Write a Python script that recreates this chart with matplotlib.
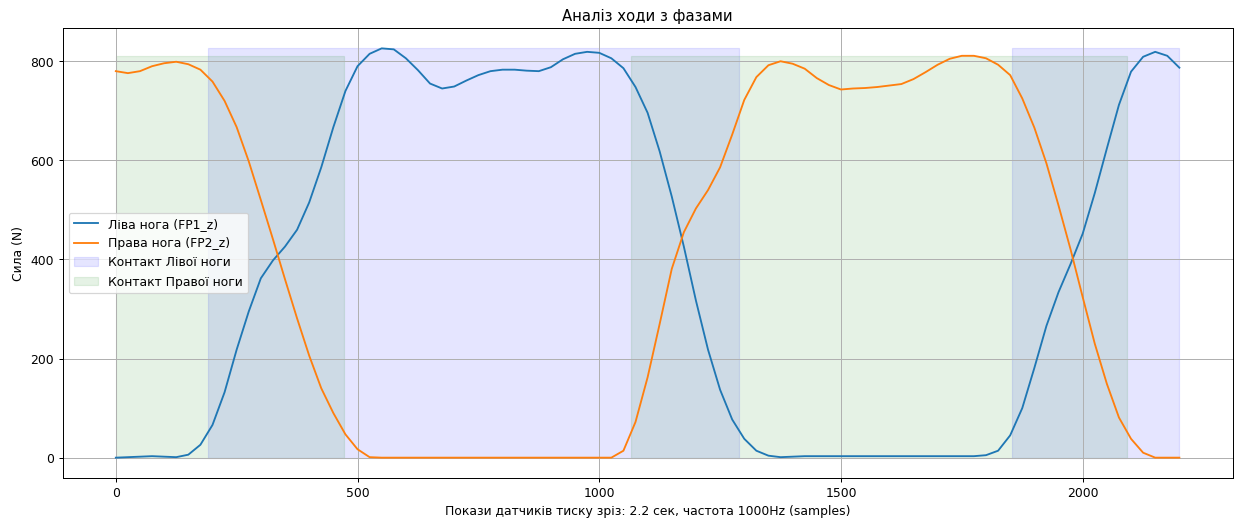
import matplotlib
matplotlib.use('Agg')
import matplotlib.pyplot as plt
import numpy as np

# Samples (every 25 samples, 1000 Hz)
samples = np.arange(0, 2201, 25)

# Left foot vertical force, FP1_z (N)
fp1_z = [0, 1, 2, 3, 2, 1, 6, 26, 66, 132,
         218, 295, 362, 398, 426, 460, 515, 586, 667, 740,
         790, 815, 826, 824, 806, 782, 755, 745, 749, 761,
         772, 780, 783, 783, 781, 780, 788, 804, 815, 819,
         817, 806, 786, 748, 696, 618, 527, 426, 317, 218,
         137, 77, 38, 14, 4, 1, 2, 3, 3, 3,
         3, 3, 3, 3, 3, 3, 3, 3, 3, 3,
         3, 3, 5, 14, 45, 100, 181, 266, 334, 391,
         452, 534, 624, 712, 779, 809, 819, 811, 787]

# Right foot vertical force, FP2_z (N)
fp2_z = [780, 776, 780, 790, 796, 799, 794, 783, 759, 720,
         667, 598, 520, 441, 360, 281, 206, 140, 90, 47,
         17, 1, 0, 0, 0, 0, 0, 0, 0, 0,
         0, 0, 0, 0, 0, 0, 0, 0, 0, 0,
         0, 0, 14, 72, 162, 270, 381, 455, 503, 540,
         586, 652, 722, 768, 792, 800, 795, 785, 766, 752,
         743, 745, 746, 748, 751, 754, 764, 778, 793, 805,
         811, 811, 806, 793, 772, 725, 666, 594, 509, 420,
         324, 230, 149, 81, 38, 10, 0, 0, 0]

# Contact phases (start, end) in samples
left_contact = [(190, 1290), (1853, 2200)]
right_contact = [(0, 471), (1066, 2091)]

DPI = 89
fig, ax = plt.subplots(figsize=(1240 / DPI, 522.3 / DPI), dpi=DPI)
fig.subplots_adjust(left=0.0505, right=0.994, top=0.946, bottom=0.084)

ax.plot(samples, fp1_z, label='Ліва нога (FP1_z)')
ax.plot(samples, fp2_z, label='Права нога (FP2_z)')

for i, (s, e) in enumerate(left_contact):
    ax.fill_between([s, e], 0, max(fp1_z), color='blue', alpha=0.1,
                    label='Контакт Лівої ноги' if i == 0 else None)
for i, (s, e) in enumerate(right_contact):
    ax.fill_between([s, e], 0, max(fp2_z), color='green', alpha=0.1,
                    label='Контакт Правої ноги' if i == 0 else None)

ax.set_title('Аналіз ходи з фазами')
ax.set_xlabel('Покази датчиків тиску зріз: 2.2 сек, частота 1000Hz (samples)')
ax.set_ylabel('Сила (N)')
ax.legend(loc='center left')
ax.grid(True)

plt.savefig('out.png', dpi=DPI)
